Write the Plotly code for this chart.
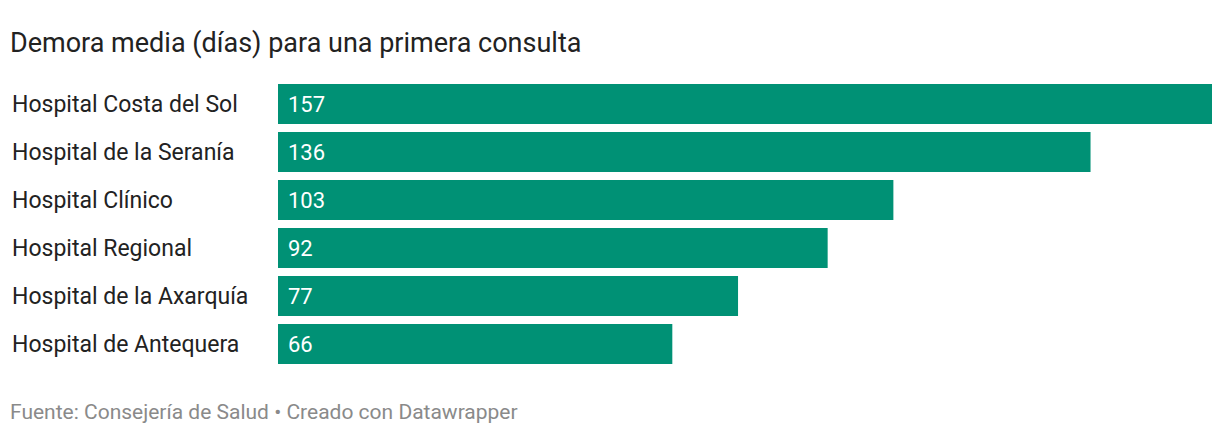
import plotly.graph_objects as go

hospitals = ["Hospital Costa del Sol", "Hospital de la Seranía", "Hospital Clínico",
             "Hospital Regional", "Hospital de la Axarquía", "Hospital de Antequera"]
values = [157, 136, 103, 92, 77, 66]

fig = go.Figure(go.Bar(
    x=values, y=hospitals, orientation="h",
    marker=dict(color="#009175", line=dict(width=0)),
))
for h, v in zip(hospitals, values):
    fig.add_annotation(x=-266/930, xref="paper", y=h, yref="y", text=h, showarrow=False,
                       xanchor="left", font=dict(size=23, family="Roboto", color="#222"))
    fig.add_annotation(x=0, xref="x", y=h, yref="y", text=str(v), showarrow=False, xshift=8,
                       xanchor="left", font=dict(size=22, family="Roboto", color="white"))
fig.add_annotation(x=-268/930, xref="paper", y=1, yref="paper", yshift=37,
                   text="Demora media (días) para una primera consulta",
                   showarrow=False, xanchor="left", yanchor="middle",
                   font=dict(size=27, family="Roboto", color="#222"))
fig.add_annotation(x=-268/930, xref="paper", y=0, yref="paper", yshift=-44,
                   text="Fuente: Consejería de Salud • Creado con Datawrapper",
                   showarrow=False, xanchor="left", yanchor="middle",
                   font=dict(size=21, family="Roboto", color="#8a8a8a"))
fig.update_layout(
    width=1212, height=428, margin=dict(l=270, r=4, t=72, b=68),
    paper_bgcolor="white", plot_bgcolor="white", bargap=8/48, showlegend=False,
    xaxis=dict(range=[0, 157], visible=False),
    yaxis=dict(autorange="reversed", showticklabels=False, showgrid=False, zeroline=False),
)
fig.write_html("out.html")
